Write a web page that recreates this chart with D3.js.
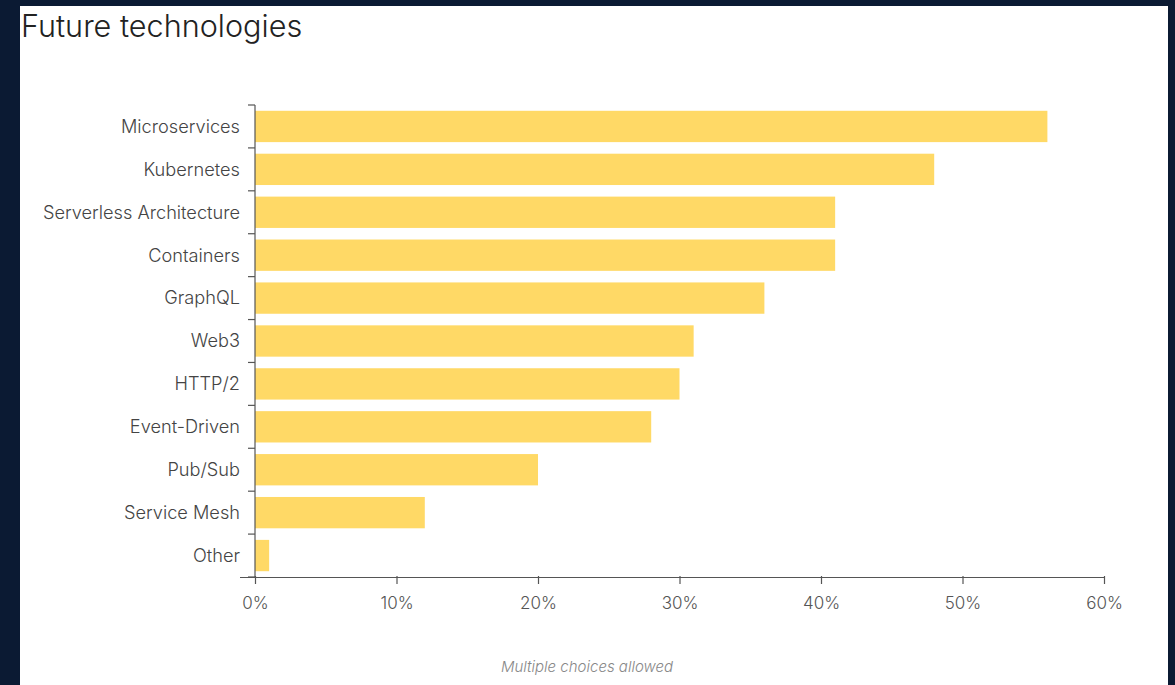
<!DOCTYPE html>
<html><head><meta charset="utf-8">
<script src="https://cdn.jsdelivr.net/npm/d3@7"></script>
<style>
html,body{margin:0;padding:0;background:#0b1a33;}
svg{display:block;}
</style></head>
<body>
<svg id="c" width="1175" height="685"></svg>
<script>
const categories = ["Microservices","Kubernetes","Serverless Architecture","Containers","GraphQL","Web3","HTTP/2","Event-Driven","Pub/Sub","Service Mesh","Other"];
const values = [56,48,41,41,36,31,30,28,20,12,1];
const xTicks = [0,10,20,30,40,50,60];
const title = "Future technologies";
const note = "Multiple choices allowed";
const FONT = "Inter, 'Noto Sans', sans-serif";

const svg = d3.select("#c");
svg.append("rect").attr("x",0).attr("y",0).attr("width",1175).attr("height",685).attr("fill","#0b1a33");
svg.append("rect").attr("x",20).attr("y",6).attr("width",1148).attr("height",685).attr("fill","#ffffff");

svg.append("text").attr("x",21).attr("y",37).attr("font-family",FONT).attr("font-weight",300)
  .attr("font-size",30.6).attr("fill","#222").text(title);

const x = d3.scaleLinear().domain([0,60]).range([255,1104]);
const y = d3.scaleBand().domain(categories).range([105,577]).paddingInner(0.27).paddingOuter(0.135);

svg.append("g").selectAll("rect").data(categories).join("rect")
  .attr("x",x(0)).attr("y",d=>y(d)).attr("height",y.bandwidth())
  .attr("width",(d,i)=>x(values[i])-x(0)).attr("fill","#ffd966");

// y axis
const step = y.step();
const yAxis = svg.append("g").attr("transform","translate(255,0)");
yAxis.append("line").attr("x1",0).attr("x2",0).attr("y1",105).attr("y2",577).attr("stroke","#555").attr("stroke-width",1.2);
const bounds = d3.range(categories.length+1).map(i=>105+i*step);
yAxis.selectAll("line.t").data(bounds).join("line").attr("class","t")
  .attr("x1",-7).attr("x2",0).attr("y1",d=>d).attr("y2",d=>d).attr("stroke","#555").attr("stroke-width",1.2);
yAxis.selectAll("text").data(categories).join("text")
  .attr("x",-15).attr("y",d=>y(d)+y.bandwidth()/2).attr("dy","0.35em").attr("text-anchor","end")
  .attr("font-family",FONT).attr("font-weight",300).attr("font-size",18.2).attr("fill","#444").text(d=>d);

// x axis
const xAxis = svg.append("g").attr("transform","translate(0,577)")
  .call(d3.axisBottom(x).tickValues(xTicks).tickFormat(d=>d+"%").tickSize(7).tickSizeOuter(0));
xAxis.select(".domain").attr("d","M240,0.5H1104.5").attr("stroke","#555").attr("stroke-width",1.2);
xAxis.selectAll(".tick line").attr("stroke","#555").attr("stroke-width",1.2).attr("y1",-1);
xAxis.selectAll(".tick text").attr("y",20).attr("font-family",FONT).attr("font-weight",300).attr("font-size",17).attr("fill","#555");

svg.append("text").attr("x",587).attr("y",672).attr("text-anchor","middle")
  .attr("font-family",FONT).attr("font-style","italic").attr("font-weight",300).attr("font-size",15).attr("fill","#888").text(note);
</script>
</body></html>
